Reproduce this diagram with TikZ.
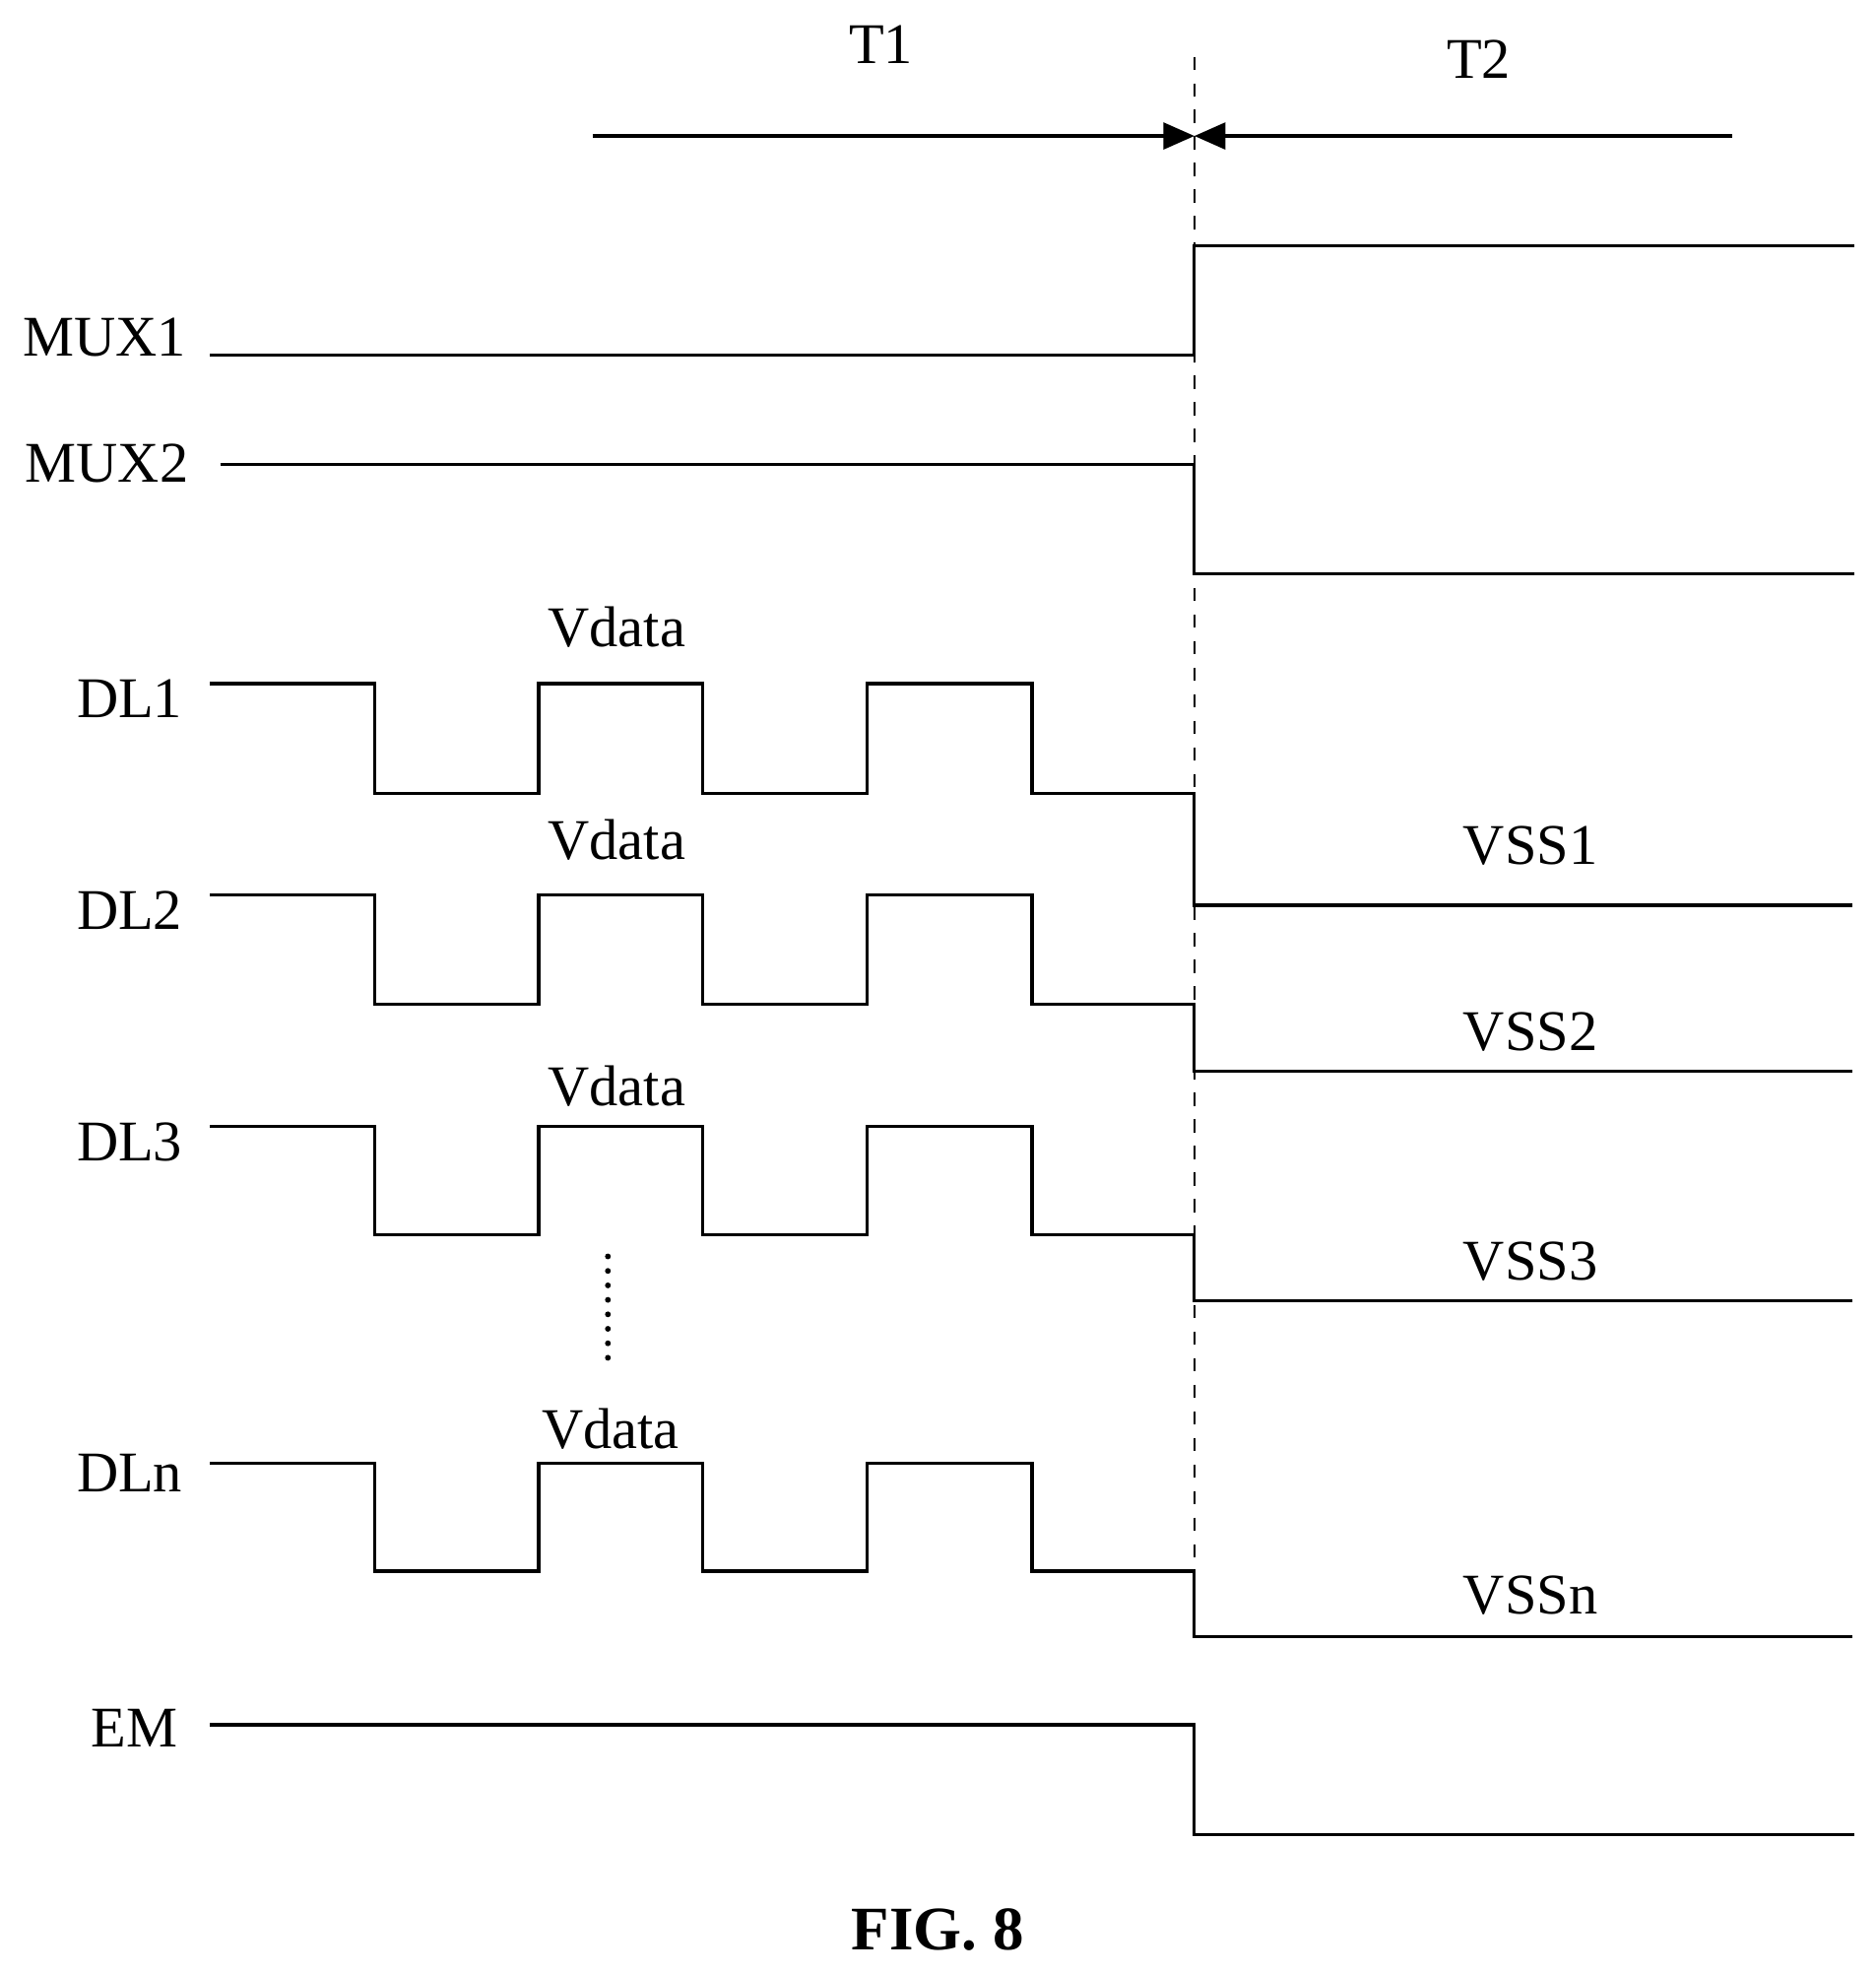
\documentclass[tikz,border=0pt]{standalone}
\usepackage{fontspec}
\setmainfont{Liberation Serif}
\usetikzlibrary{arrows.meta}
\tikzset{
  wave/.style={line width=0.7pt},
  lbl/.style={font=\fontsize{13}{15}\selectfont, inner sep=0pt},
  period/.style={line width=0.7pt,-{Triangle[length=7pt,width=6pt]}}
}
\begin{document}
\begin{tikzpicture}[x=0.01cm,y=-0.01cm]
\useasboundingbox (0,0) rectangle (1490,1568);

\def\xs{949}

% time periods
\draw[dashed,line width=0.5pt] (\xs,45) -- (\xs,1300);
\coordinate (T1a) at (471,108);
\coordinate (T2a) at (1376,108);
\coordinate (Tm) at (\xs,108);
\draw[period] (T1a) -- (Tm);
\draw[period] (T2a) -- (Tm);
\node[lbl] (T1) at (700,35) {T1};
\node[lbl] (T2) at (1175,47) {T2};

% mux signals
\draw[wave] (167,282) -- (\xs,282) -- (\xs,195) -- (1473,195);
\node[lbl] (MUX1) at (83,268) {MUX1};
\draw[wave] (175,369) -- (\xs,369) -- (\xs,456) -- (1473,456);
\node[lbl] (MUX2) at (85,368) {MUX2};

% data lines: high, low, vss level, name, vss name, vss label y, name y, vdata x/y
\foreach \hi/\lo/\vs/\nm/\vn/\vy/\ny/\dx/\dy in {543/630/719/DL1/VSS1/672/555/490/498,
                                       711/798/851/DL2/VSS2/820/723/490/667,
                                       895/981/1033/DL3/VSS3/1002/907/490/863,
                                       1162/1248/1300/DLn/VSSn/1267/1170/485/1135}{
  \draw[wave] (167,\hi) -- (298,\hi) -- (298,\lo) -- (428,\lo) -- (428,\hi)
    -- (558,\hi) -- (558,\lo) -- (689,\lo) -- (689,\hi) -- (820,\hi)
    -- (820,\lo) -- (\xs,\lo) -- (\xs,\vs) -- (1472,\vs);
  \node[lbl] (\nm) at (103,\ny) {\nm};
  \node[lbl] (v\nm) at (\dx,\dy) {Vdata};
  \node[lbl] (\vn) at (1216,\vy) {\vn};
}

% dots
\foreach \k in {0,...,7}
  \fill (483,998+\k*11.5) circle[radius=2.3];

% emission
\draw[wave] (167,1370) -- (\xs,1370) -- (\xs,1457) -- (1473,1457);
\node[lbl] (EM) at (107,1373) {EM};

\node[lbl,font=\fontsize{14}{16}\selectfont\bfseries] (fig) at (745,1533) {FIG. 8};
\end{tikzpicture}
\end{document}
